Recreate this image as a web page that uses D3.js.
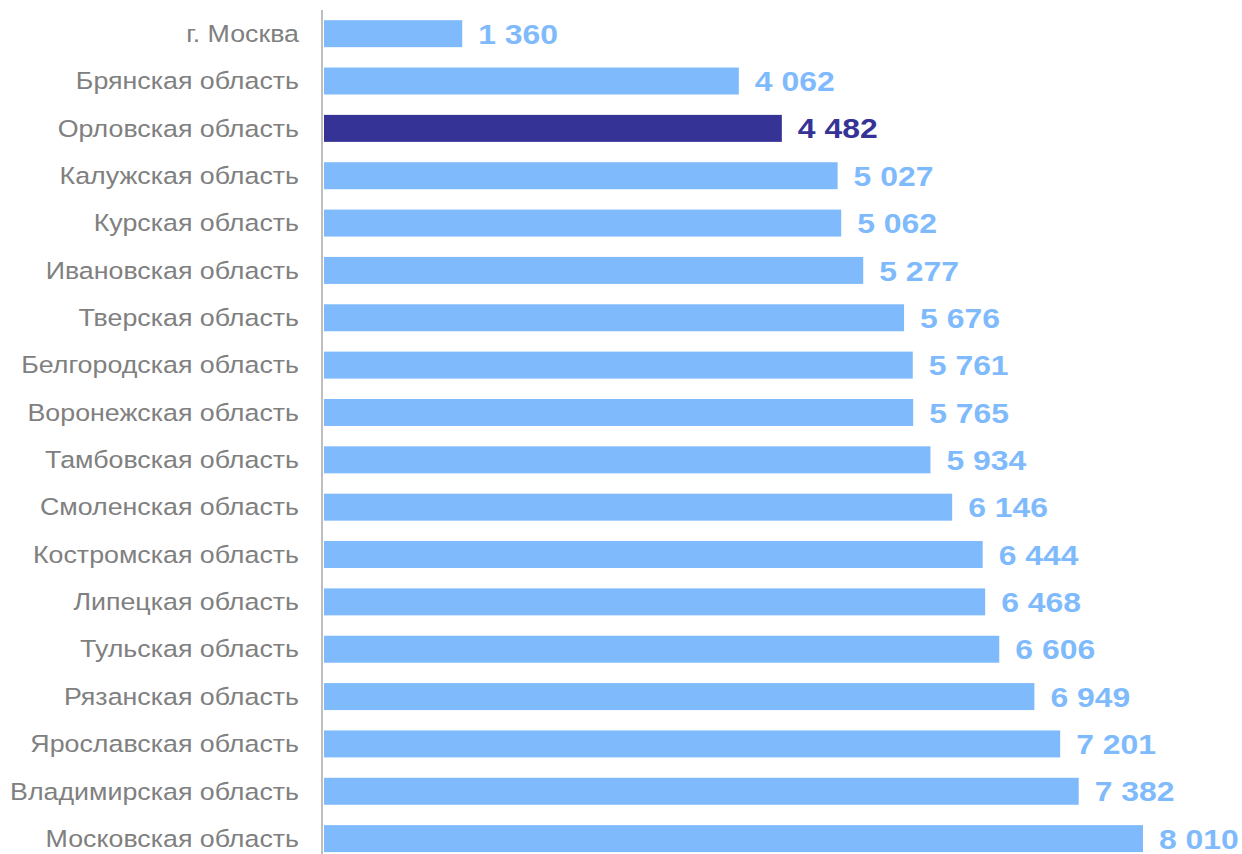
<!DOCTYPE html>
<html>
<head>
<meta charset="utf-8">
<script src="https://cdn.jsdelivr.net/npm/d3@7"></script>
<style>
  body { margin: 0; background: #fff; }
  svg { display: block; }
</style>
</head>
<body>
<div id="chart"></div>
<script>
const regions = [
  "г. Москва", "Брянская область", "Орловская область", "Калужская область",
  "Курская область", "Ивановская область", "Тверская область", "Белгородская область",
  "Воронежская область", "Тамбовская область", "Смоленская область", "Костромская область",
  "Липецкая область", "Тульская область", "Рязанская область", "Ярославская область",
  "Владимирская область", "Московская область"
];
const values = [1360, 4062, 4482, 5027, 5062, 5277, 5676, 5761, 5765, 5934, 6146, 6444, 6468, 6606, 6949, 7201, 7382, 8010];
const highlight = "Орловская область";

const width = 1242;
const height = 854;
const margin = { top: 10, right: 99, bottom: 0, left: 323 };
const stretch = 1.14; // text in the original is a bit wider than Arial

const data = regions.map((name, i) => ({ name, value: values[i] }));

const x = d3.scaleLinear()
  .domain([0, 8010])
  .range([margin.left, width - margin.right]);

const y = d3.scaleBand()
  .domain(regions)
  .range([margin.top, margin.top + 47.35 * 18])
  .paddingInner(0.43)
  .paddingOuter(0.215);

const svg = d3.select("#chart")
  .append("svg")
  .attr("width", width)
  .attr("height", height)
  .style("font-family", "Arial, 'Liberation Sans', sans-serif");

svg.append("g")
  .selectAll("rect")
  .data(data)
  .enter()
  .append("rect")
  .attr("x", x(0) + 1)
  .attr("y", (d) => y(d.name))
  .attr("width", (d) => x(d.value) - x(0) - 1)
  .attr("height", y.bandwidth())
  .attr("fill", (d) => (d.name === highlight ? "#363396" : "#7fbbfc"));

// category labels
svg.append("g")
  .selectAll("text")
  .data(data)
  .enter()
  .append("text")
  .attr("transform", (d) => `translate(${margin.left - 24},${y(d.name) + y.bandwidth() / 2}) scale(${stretch},1)`)
  .attr("dy", "0.35em")
  .attr("text-anchor", "end")
  .attr("font-size", 23.5)
  .attr("fill", "#808080")
  .text((d) => d.name);

// value labels
const fmt = (v) => d3.format(",")(v).replace(/,/g, " ");
svg.append("g")
  .selectAll("text")
  .data(data)
  .enter()
  .append("text")
  .attr("transform", (d) => `translate(${x(d.value) + 16},${y(d.name) + y.bandwidth() / 2}) scale(${stretch},1)`)
  .attr("dy", "0.36em")
  .attr("font-size", 28)
  .attr("font-weight", "bold")
  .attr("fill", (d) => (d.name === highlight ? "#363396" : "#7fbbfc"))
  .text((d) => fmt(d.value));

// vertical axis line
svg.append("line")
  .attr("x1", margin.left - 1)
  .attr("x2", margin.left - 1)
  .attr("y1", margin.top)
  .attr("y2", height)
  .attr("stroke", "#bfbfbf")
  .attr("stroke-width", 2);
</script>
</body>
</html>
